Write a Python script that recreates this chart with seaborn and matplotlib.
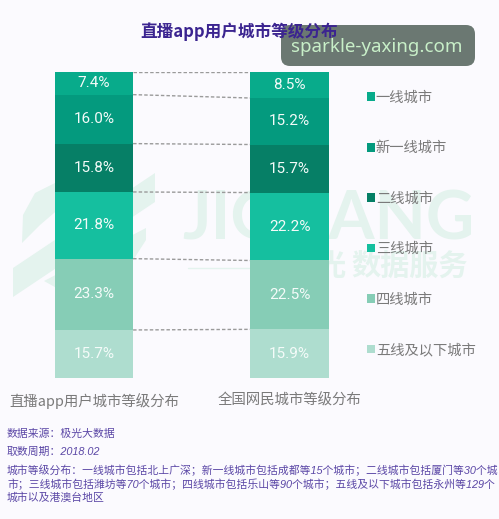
import matplotlib
matplotlib.use("Agg")
import matplotlib.pyplot as plt
from matplotlib.lines import Line2D
from matplotlib.patches import Patch, Polygon, FancyBboxPatch
from matplotlib.transforms import IdentityTransform
import numpy as np
import pandas as pd
import seaborn as sns

# data
groups = ["直播app用户城市等级分布", "全国网民城市等级分布"]
tiers = ["一线城市", "新一线城市", "二线城市", "三线城市", "四线城市", "五线及以下城市"]
live_app = [7.4, 16.0, 15.8, 21.8, 23.3, 15.7]
all_users = [8.5, 15.2, 15.7, 22.2, 22.5, 15.9]
colors = ["#08AB8B", "#049A7E", "#067F66", "#15BF9F", "#86CDB6", "#AEDDCF"]

BG = "#FBFAFE"
W, H = 499, 519

sns.set_theme(style="white")
plt.rcParams["font.family"] = ["Noto Sans CJK SC", "DejaVu Sans"]

fig = plt.figure(figsize=(W / 100, H / 100), dpi=100, facecolor=BG)


def px(x, y):
    return x / W, 1 - y / H


# faint logo watermark behind the bars
wm = "#E4F3EE"
for pts in [
    [(13, 268), (155, 173), (155, 202), (13, 297)],
    [(22, 243), (23, 215), (35, 193), (55, 183), (75, 178), (75, 195), (40, 225)],
    [(44, 281), (146, 228), (146, 240), (130, 265), (110, 288), (62, 291)],
]:
    fig.patches.append(Polygon([px(*p) for p in pts], closed=True, transform=fig.transFigure,
                               facecolor=wm, edgecolor="none", zorder=0))
fig.text(*px(328, 220), "JIGUANG", fontsize=48, fontweight="bold", color=wm, ha="center", va="center",
         family=["Lato"], zorder=0)
fig.text(*px(410, 266), "数据服务", fontsize=21, fontweight="bold", color=wm, ha="center", va="center", zorder=0)
fig.text(*px(347, 266), "极光", fontsize=21, fontweight="bold", color=wm, ha="right", va="center", zorder=0)
fig.add_artist(Line2D([188 / W, 300 / W], [1 - 268 / H] * 2, color=wm, lw=1, zorder=0))

# axes span the full width, top and bottom match the stacks
ax = fig.add_axes([0, 1 - 378 / H, 1, (378 - 72) / H], zorder=1)
ax.patch.set_alpha(0)

df = pd.DataFrame({"group": groups, **{t: [a, b] for t, a, b in zip(tiers, live_app, all_users)}})
bar_w = 0.4
bottoms = np.zeros(2)
for tier, col in zip(tiers, colors):
    sns.barplot(data=df, x="group", y=tier, bottom=bottoms, color=col, width=bar_w, saturation=1,
                linewidth=0, ax=ax, zorder=3)
    for i, v in enumerate(df[tier]):
        ax.text(i, bottoms[i] + v / 2, f"{v:.1f}%", ha="center", va="center", color="#F4FBF9",
                fontsize=11, family=["Roboto"], zorder=4)
    bottoms = bottoms + df[tier].values

# dashed connectors between the stacks
cum_a = np.concatenate([[0], np.cumsum(live_app)[:-1]])
cum_b = np.concatenate([[0], np.cumsum(all_users)[:-1]])
for ya, yb in zip(cum_a, cum_b):
    ax.plot([bar_w / 2, 1 - bar_w / 2], [ya, yb], color="#9A9A9A", lw=1, ls=(0, (2.5, 1.5)), zorder=2)

step = 195.5
ax.set_xlim(-94 / step, (W - 94) / step)
ax.set_ylim(100, 0)
ax.set_xlabel("")
ax.set_ylabel("")
ax.set_yticks([])
ax.set_xticks([0, 1], groups)
ax.tick_params(axis="x", length=0, pad=11, labelsize=10.4, labelcolor="#7A7A7A")
sns.despine(ax=ax, left=True, bottom=True)

handles = [Patch(facecolor=c, edgecolor="none") for c in colors]
fig.legend(handles, tiers, loc="center left", bbox_to_anchor=px(367, 224), frameon=False, fontsize=10.3,
           labelcolor="#7A7A7A", handlelength=0.55, handleheight=0.55, handletextpad=0.07,
           labelspacing=2.55, borderpad=0, borderaxespad=0)

# watermark box and title, the title stays readable across the box
fig.patches.append(FancyBboxPatch((281, H - 66), 194, 41, boxstyle="round,pad=0,rounding_size=9",
                                  transform=IdentityTransform(), facecolor="#6B7872", edgecolor="none", zorder=6))
fig.text(*px(377, 47), "sparkle-yaxing.com", fontsize=13.5, color="#C8EFC8", ha="center", va="center",
         family=["Noto Sans"], zorder=7)
fig.text(*px(239, 32), "直播app用户城市等级分布", fontsize=12, fontweight="bold", color="#3B2490",
         ha="center", va="center", zorder=8)

# footnotes
note_color = "#5B47A6"
note_font = ["Liberation Sans", "Noto Sans CJK SC"]
notes = [
    (434, "数据来源：极光大数据"),
    (452, "取数周期：2018.02"),
    (470, "城市等级分布：一线城市包括北上广深；新一线城市包括成都等15个城市；二线城市包括厦门等30个城"),
    (484, "市；三线城市包括潍坊等70个城市；四线城市包括乐山等90个城市；五线及以下城市包括永州等129个"),
    (497, "城市以及港澳台地区"),
]
for y, line in notes:
    fig.text(*px(7, y), line, fontsize=7.8, color=note_color, style="italic", family=note_font,
             ha="left", va="center")

fig.savefig("out.png", dpi=100, facecolor=BG)
